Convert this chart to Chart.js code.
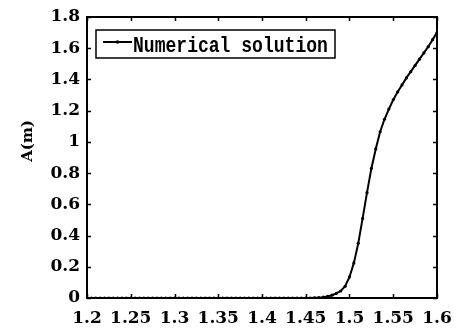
<!DOCTYPE html>
<html><head><meta charset="utf-8">
<script src="https://cdn.jsdelivr.net/npm/chart.js@4/dist/chart.umd.min.js"></script>
<style>html,body{margin:0;padding:0;background:#fff;}#wrap{width:456px;height:333px;}</style>
</head><body><div id="wrap"><canvas id="c" width="456" height="333"></canvas></div>
<script>
const xValues = [
  1.200,1.205,1.210,1.215,1.220,1.225,1.230,1.235,1.240,1.245,
  1.250,1.255,1.260,1.265,1.270,1.275,1.280,1.285,1.290,1.295,
  1.300,1.305,1.310,1.315,1.320,1.325,1.330,1.335,1.340,1.345,
  1.350,1.355,1.360,1.365,1.370,1.375,1.380,1.385,1.390,1.395,
  1.400,1.405,1.410,1.415,1.420,1.425,1.430,1.435,1.440,1.445,
  1.450,1.455,1.460,1.465,1.470,1.475,1.480,1.485,1.490,1.495,
  1.500,1.505,1.510,1.515,1.520,1.525,1.530,1.535,1.540,1.545,
  1.550,1.555,1.560,1.565,1.570,1.575,1.580,1.585,1.590,1.595,
  1.600
];
const aValues = [
  0,0,0,0,0,0,0,0,0,0,
  0,0,0,0,0,0,0,0,0,0,
  0,0,0,0,0,0,0,0,0,0,
  0,0,0,0,0,0,0,0,0,0,
  0,0,0,0,0,0,0,0,0,0,
  0,0,0.001,0.002,0.005,0.010,0.018,0.030,0.045,0.075,
  0.135,0.225,0.35,0.51,0.675,0.83,0.955,1.065,1.145,1.21,
  1.27,1.32,1.365,1.41,1.45,1.49,1.53,1.57,1.61,1.655,
  1.70
];
const xTickValues = [1.2,1.25,1.3,1.35,1.4,1.45,1.5,1.55,1.6];
const xTickLabels = ['1.2','1.25','1.3','1.35','1.4','1.45','1.5','1.55','1.6'];
const yTickValues = [0,0.2,0.4,0.6,0.8,1,1.2,1.4,1.6,1.8];
const yTickLabels = ['0','0.2','0.4','0.6','0.8','1','1.2','1.4','1.6','1.8'];
const seriesLabel = 'Numerical solution';
const yTitle = 'A(m)';

const tickFont = {family:'DejaVu Serif', weight:'bold', size:17};

const framePlugin = {
  id:'frame',
  afterDraw(chart){
    const ctx = chart.ctx, a = chart.chartArea;
    const xs = chart.scales.x, ys = chart.scales.y;
    ctx.save();
    ctx.strokeStyle = '#000';
    ctx.lineWidth = 1.5;
    const tl = 4;
    ctx.beginPath();
    xTickValues.forEach(v=>{
      const px = Math.round(xs.getPixelForValue(v)) + 0.5;
      ctx.moveTo(px, a.bottom); ctx.lineTo(px, a.bottom - tl);
      ctx.moveTo(px, a.top); ctx.lineTo(px, a.top + tl);
    });
    yTickValues.forEach(v=>{
      const py = Math.round(ys.getPixelForValue(v)) + 0.5;
      ctx.moveTo(a.left, py); ctx.lineTo(a.left + tl, py);
      ctx.moveTo(a.right, py); ctx.lineTo(a.right - tl, py);
    });
    ctx.stroke();
    ctx.lineWidth = 2;
    ctx.strokeRect(a.left, a.top, a.right - a.left, a.bottom - a.top);
    // legend
    const lx = a.left + 9, ly = a.top + 13, lw = 239, lh = 28;
    ctx.fillStyle = '#fff';
    ctx.fillRect(lx, ly, lw, lh);
    ctx.lineWidth = 1.5;
    ctx.strokeRect(lx, ly, lw, lh);
    ctx.lineWidth = 2;
    ctx.beginPath();
    ctx.moveTo(lx + 7, ly + 12); ctx.lineTo(lx + 36, ly + 12);
    ctx.stroke();
    ctx.fillStyle = '#000';
    ctx.beginPath();
    ctx.arc(lx + 21.5, ly + 12, 1.8, 0, Math.PI*2);
    ctx.fill();
    ctx.save();
    ctx.translate(lx + 37, ly + 22);
    ctx.scale(0.82, 1);
    ctx.font = 'bold 22px "Liberation Mono"';
    ctx.textBaseline = 'alphabetic';
    ctx.fillText(chart.data.datasets[0].label, 0, 0);
    ctx.restore();
    // y axis title
    ctx.save();
    ctx.translate(28, 141);
    ctx.rotate(-Math.PI/2);
    ctx.font = 'bold 15px "DejaVu Serif"';
    ctx.textAlign = 'center';
    ctx.textBaseline = 'middle';
    ctx.fillText(yTitle, 0, 0);
    ctx.restore();
    ctx.restore();
  }
};

new Chart(document.getElementById('c'), {
  type:'line',
  data:{
    datasets:[{
      label: seriesLabel,
      data: xValues.map((x,i)=>({x:x, y:aValues[i]})),
      borderColor:'#000',
      borderWidth:2,
      pointRadius:1.6,
      pointBackgroundColor:'#000',
      pointBorderWidth:0,
      tension:0,
      fill:false
    }]
  },
  options:{
    responsive:false,
    animation:false,
    devicePixelRatio:1,
    layout:{padding:{top:17,right:19,left:0,bottom:0}},
    plugins:{legend:{display:false}, tooltip:{enabled:false}},
    scales:{
      x:{
        type:'linear', min:1.2, max:1.6,
        afterBuildTicks(s){ s.ticks = xTickValues.map(v=>({value:v})); },
        afterFit(s){ s.height = 35; s.paddingLeft = 0; s.paddingRight = 0; },
        ticks:{autoSkip:false, maxRotation:0, minRotation:0, color:'#000', font:tickFont, padding:10,
          callback:(v,i)=>xTickLabels[i]},
        grid:{display:false, drawTicks:false},
        border:{display:false}
      },
      y:{
        type:'linear', min:0, max:1.8,
        afterBuildTicks(s){ s.ticks = yTickValues.map(v=>({value:v})); },
        afterFit(s){ s.width = 87; s.paddingTop = 0; s.paddingBottom = 0; },
        ticks:{autoSkip:false, color:'#000', font:tickFont, padding:7,
          callback:(v,i)=>yTickLabels[i]},
        grid:{display:false, drawTicks:false},
        border:{display:false},
        title:{display:false}
      }
    }
  },
  plugins:[framePlugin]
});
</script>
</body></html>
